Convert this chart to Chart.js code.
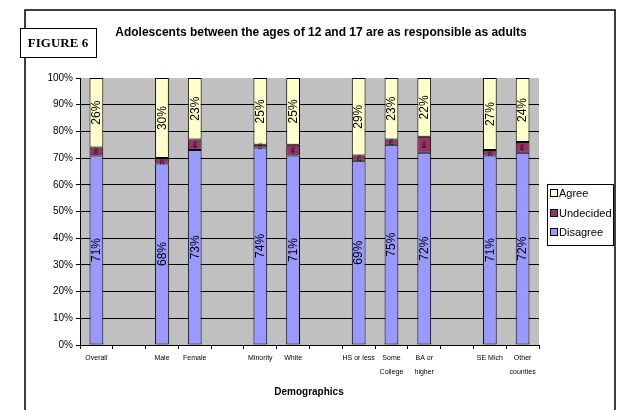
<!DOCTYPE html>
<html>
<head>
<meta charset="utf-8">
<script src="https://cdn.jsdelivr.net/npm/chart.js@4/dist/chart.umd.min.js"></script>
<style>
  body { margin: 0; background: #fff; }
  canvas { display: block; }
</style>
</head>
<body>
<canvas id="monGraphique" width="618" height="410"></canvas>
<script>
// categories (empty strings are the gaps between groups)
const categories = ['Overall', '', 'Male', 'Female', '', 'Minority', 'White', '',
  'HS or less', ['Some', 'College'], ['BA or', 'higher'], '', 'SE Mich', ['Other', 'counties']];
const disagree  = [71, null, 68, 73, null, 74, 71, null, 69, 75, 72, null, 71, 72];
const undecided = [3, null, 2, 4, null, 1, 4, null, 2, 2, 6, null, 2, 4];
const agree     = [26, null, 30, 23, null, 25, 25, null, 29, 23, 22, null, 27, 24];
const yTicks = [0, 10, 20, 30, 40, 50, 60, 70, 80, 90, 100];

const FONT = '"Liberation Sans", Arial, sans-serif';

// fond gris, cadre, titres, legende
const decor = {
    id: 'decor',
    beforeDraw(chart) {
        const ctx = chart.ctx;
        const a = chart.chartArea;
        ctx.save();
        ctx.fillStyle = '#fff';
        ctx.fillRect(0, 0, chart.width, chart.height);
        ctx.fillStyle = '#c0c0c0';
        ctx.fillRect(a.left, a.top, a.right - a.left, a.bottom - a.top);
        ctx.restore();
    },
    afterDraw(chart) {
        const ctx = chart.ctx;
        ctx.save();
        // outer frame
        ctx.strokeStyle = '#000';
        ctx.lineWidth = 1.5;
        ctx.strokeRect(25, 10, 590, 420);
        // figure box
        ctx.fillStyle = '#fff';
        ctx.fillRect(20, 28, 76, 29);
        ctx.lineWidth = 1;
        ctx.strokeRect(20.5, 28.5, 76, 29);
        ctx.fillStyle = '#000';
        ctx.font = 'bold 13px "Liberation Serif", "Times New Roman", serif';
        ctx.textAlign = 'center';
        ctx.textBaseline = 'middle';
        ctx.fillText('FIGURE 6', 58, 43.5);
        // title
        ctx.font = 'bold 12px ' + FONT;
        ctx.fillText('Adolescents between the ages of 12 and 17 are as responsible as adults', 321, 33);
        // axis title
        ctx.font = 'bold 10px ' + FONT;
        ctx.fillText('Demographics', 309, 392);
        // legend
        ctx.fillStyle = '#fff';
        ctx.fillRect(547, 184, 66, 61);
        ctx.lineWidth = 1;
        ctx.strokeStyle = '#000';
        ctx.strokeRect(547.5, 184.5, 66, 61);
        const items = [[2, 193], [1, 213], [0, 232]];
        ctx.textAlign = 'left';
        ctx.font = '11px ' + FONT;
        items.forEach(([i, y]) => {
            const ds = chart.data.datasets[i];
            ctx.fillStyle = ds.backgroundColor;
            ctx.fillRect(550.5, y - 3.5, 7, 7);
            ctx.strokeRect(550.5, y - 3.5, 7, 7);
            ctx.fillStyle = '#000';
            ctx.fillText(ds.label, 559, y + 0.5);
        });
        ctx.restore();
    },
    afterDatasetsDraw(chart) {
        const ctx = chart.ctx;
        ctx.save();
        ctx.fillStyle = '#000';
        ctx.textAlign = 'center';
        ctx.textBaseline = 'middle';
        chart.data.datasets.forEach((ds, di) => {
            const meta = chart.getDatasetMeta(di);
            meta.data.forEach((bar, i) => {
                const v = ds.data[i];
                if (v == null) return;
                const cy = (bar.y + bar.base) / 2;
                ctx.save();
                ctx.translate(bar.x, cy);
                ctx.rotate(-Math.PI / 2);
                ctx.font = (di === 1 ? '5px ' : '12px ') + FONT;
                ctx.fillText(v + '%', 0, 0.5);
                ctx.restore();
            });
        });
        ctx.restore();
    }
};

const ctx = document.getElementById('monGraphique').getContext('2d');
new Chart(ctx, {
    type: 'bar',
    data: {
        labels: categories,
        datasets: [
            { label: 'Disagree', data: disagree, backgroundColor: '#9999ff' },
            { label: 'Undecided', data: undecided, backgroundColor: '#993366' },
            { label: 'Agree', data: agree, backgroundColor: '#ffffcc' }
        ].map(d => Object.assign(d, {
            borderColor: '#000', borderWidth: 1, borderSkipped: false,
            categoryPercentage: 1, barPercentage: 0.42
        }))
    },
    options: {
        responsive: false,
        animation: false,
        devicePixelRatio: 1,
        layout: { padding: { left: 0, top: 78, right: 79, bottom: 0 } },
        plugins: { legend: { display: false }, tooltip: { enabled: false } },
        scales: {
            x: {
                stacked: true,
                offset: true,
                afterFit: s => { s.height = 65; },
                grid: { offset: true, drawOnChartArea: false, tickLength: 4, tickColor: '#000', color: '#000' },
                border: { color: '#000', width: 1 },
                ticks: {
                    autoSkip: false, maxRotation: 0, minRotation: 0, padding: 2,
                    color: '#000', font: { family: FONT, size: 7, lineHeight: 2 }
                }
            },
            y: {
                stacked: true,
                min: yTicks[0],
                max: yTicks[yTicks.length - 1],
                afterFit: s => { s.width = 80; },
                afterBuildTicks: s => { s.ticks = yTicks.map(v => ({ value: v })); },
                grid: {
                    color: c => (c.tick && c.tick.value === 100) ? 'rgba(0,0,0,0)' : '#000',
                    tickColor: '#000', tickLength: 4, lineWidth: 1
                },
                border: { color: '#000', width: 1 },
                ticks: {
                    padding: 3, color: '#000',
                    font: { family: FONT, size: 10 },
                    callback: v => v + '%'
                }
            }
        }
    },
    plugins: [decor]
});
</script>
</body>
</html>
